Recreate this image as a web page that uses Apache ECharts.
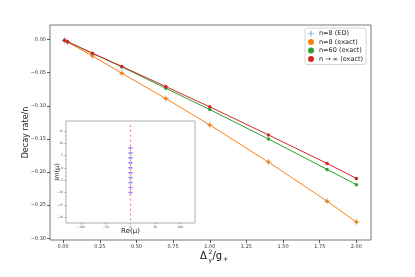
<!DOCTYPE html>
<html><head><meta charset="utf-8">
<script src="https://cdn.jsdelivr.net/npm/echarts@6/dist/echarts.min.js"></script>
<style>html,body{margin:0;padding:0;background:#fff}#c{width:415px;height:277px}</style>
</head><body><div id="c"></div>
<script>
// ---- data ----
const xVals      = [0.01, 0.03, 0.2, 0.4, 0.7, 1.0, 1.4, 1.8, 2.0];
const edRate     = [-0.0013, -0.0038, -0.0247, -0.0508, -0.089, -0.129, -0.185, -0.244, -0.2756];
const exact8     = [-0.0013, -0.0038, -0.0247, -0.0508, -0.089, -0.129, -0.185, -0.244, -0.2756];
const exact60    = [-0.0011, -0.0033, -0.0209, -0.0412, -0.0735, -0.1056, -0.150, -0.196, -0.219];
const exactInf   = [-0.0010, -0.0031, -0.0205, -0.0405, -0.0709, -0.1016, -0.144, -0.187, -0.2097];
const xTicks     = [0, 0.25, 0.5, 0.75, 1.0, 1.25, 1.5, 1.75, 2.0];
const yTicks     = [0, -0.05, -0.10, -0.15, -0.20, -0.25, -0.30];
const insetImExact = [17, 15, 13, 11, 9, 7, 5, 3, 1, -1, -3, -5, -7, -9, -11, -13, -15, -17, -19, -21];
const insetImED    = [8, 6, 4, 2, 0, -2, -4, -6, -8, -10];
const insetXTicks  = [-100, -50, 0, 50, 100];
const insetYTicks  = [-20, -15, -10, -5, 0, 5, 10, 15];
const legendNames  = ['n=8 (ED)', 'n=8 (exact)', 'n=60 (exact)', 'n \u2192 \u221e (exact)'];

const pair = (xs, ys) => xs.map((x, i) => [x, ys[i]]);
const fmt = v => (v < 0 ? '\u2212' : '') + Math.abs(v).toFixed(2);
const fmtInt = v => (v < 0 ? '\u2212' : '') + Math.abs(v);
const plus = 'path://M4.4,0h1.2v4.4h4.4v1.2h-4.4v4.4h-1.2v-4.4h-4.4v-1.2h4.4z';

const chart = echarts.init(document.getElementById('c'), null, {renderer: 'canvas'});
chart.setOption({
  animation: false,
  backgroundColor: '#fff',
  textStyle: {fontFamily: 'DejaVu Sans'},
  grid: [
    {left: 50, top: 25, width: 321, height: 215, show: true, borderColor: '#555', borderWidth: 0.8, backgroundColor: 'transparent'},
    {left: 66, top: 121, width: 129, height: 102, show: true, borderColor: '#999', borderWidth: 0.8, backgroundColor: '#fff', z: 3}
  ],
  xAxis: [
    {gridIndex: 0, type: 'value', min: -0.0895, max: 2.0995, splitLine: {show: false},
     axisLine: {show: false, onZero: false},
     axisTick: {show: true, inside: false, length: 3, lineStyle: {color: '#333', width: 0.8}, customValues: xTicks},
     axisLabel: {fontSize: 5, color: '#333', margin: 4, customValues: xTicks, formatter: fmt}},
    {gridIndex: 1, type: 'value', min: -130, max: 130, splitLine: {show: false}, z: 3,
     axisLine: {show: false, onZero: false},
     axisTick: {show: true, length: 1.5, lineStyle: {color: '#666', width: 0.5}, customValues: insetXTicks},
     axisLabel: {fontSize: 3, color: '#555', margin: 3, customValues: insetXTicks, formatter: fmtInt},
     name: 'Re(\u03bc)', nameLocation: 'middle', nameGap: 5, nameMoveOverlap: false,
     nameTextStyle: {fontSize: 7, color: '#222', verticalAlign: 'top'}}
  ],
  yAxis: [
    {gridIndex: 0, type: 'value', min: -0.3026, max: 0.022, splitLine: {show: false},
     axisLine: {show: false, onZero: false},
     axisTick: {show: true, inside: false, length: 3, lineStyle: {color: '#333', width: 0.8}, customValues: yTicks},
     axisLabel: {fontSize: 5, color: '#333', margin: 4, customValues: yTicks, formatter: fmt},
     name: 'Decay rate/n', nameLocation: 'middle', nameGap: 20, nameMoveOverlap: false,
     nameTextStyle: {fontSize: 8, color: '#222'}},
    {gridIndex: 1, type: 'value', min: -22.4, max: 19, splitLine: {show: false}, z: 3,
     axisLine: {show: false, onZero: false},
     axisTick: {show: true, length: 1.5, lineStyle: {color: '#666', width: 0.5}, customValues: insetYTicks},
     axisLabel: {fontSize: 3, color: '#555', margin: 3, customValues: insetYTicks, formatter: fmtInt},
     name: 'Im(\u03bc)', nameLocation: 'middle', nameGap: 5, nameMoveOverlap: false,
     nameTextStyle: {fontSize: 6.5, color: '#222'}}
  ],
  legend: {
    orient: 'vertical', left: 305, top: 28, padding: [2, 3, 2, 3], itemGap: 1.5,
    itemWidth: 6, itemHeight: 6, borderColor: '#ccc', borderWidth: 0.8, borderRadius: 2,
    backgroundColor: '#fff', textStyle: {fontSize: 6.5, color: '#222'},
    data: [
      {name: legendNames[0], icon: plus, itemStyle: {color: '#1f77b4'}},
      {name: legendNames[1], icon: 'circle', itemStyle: {color: '#ff7f0e'}},
      {name: legendNames[2], icon: 'circle', itemStyle: {color: '#2ca02c'}},
      {name: legendNames[3], icon: 'circle', itemStyle: {color: '#d62728'}}
    ]
  },
  series: [
    {name: legendNames[0], type: 'scatter', xAxisIndex: 0, yAxisIndex: 0, data: pair(xVals, edRate),
     symbol: plus, symbolSize: 7, itemStyle: {color: 'rgba(31,119,180,0.5)'}, z: 2},
    {name: legendNames[1], type: 'line', xAxisIndex: 0, yAxisIndex: 0, data: pair(xVals, exact8),
     symbol: 'circle', symbolSize: 3.5, showSymbol: true, lineStyle: {width: 1, color: '#ff7f0e'}, itemStyle: {color: '#ff7f0e'}, z: 3},
    {name: legendNames[2], type: 'line', xAxisIndex: 0, yAxisIndex: 0, data: pair(xVals, exact60),
     symbol: 'circle', symbolSize: 3.5, lineStyle: {width: 1, color: '#2ca02c'}, itemStyle: {color: '#2ca02c'}, z: 4},
    {name: legendNames[3], type: 'line', xAxisIndex: 0, yAxisIndex: 0, data: pair(xVals, exactInf),
     symbol: 'circle', symbolSize: 3.5, lineStyle: {width: 1, color: '#d62728'}, itemStyle: {color: '#d62728'}, z: 5},
    {type: 'scatter', xAxisIndex: 1, yAxisIndex: 1, data: insetImExact.map(v => [0, v]),
     symbol: 'rect', symbolSize: [1.2, 2], itemStyle: {color: 'rgba(255,40,40,0.75)'}, z: 6},
    {type: 'scatter', xAxisIndex: 1, yAxisIndex: 1, data: insetImED.map(v => [0, v]),
     symbol: 'rect', symbolSize: [4, 1.6], itemStyle: {color: 'rgba(50,50,240,0.75)'}, z: 7}
  ],
  graphic: [{
    type: 'group', left: 200, top: 249,
    children: [
      {type: 'text', x: 0, y: 2, style: {text: '\u0394', fontSize: 10, fill: '#111', fontFamily: 'DejaVu Sans'}},
      {type: 'text', x: 8.5, y: 0, style: {text: '2', fontSize: 6, fill: '#111', fontFamily: 'DejaVu Sans'}},
      {type: 'text', x: 8.5, y: 8, style: {text: 'y', fontSize: 6, fill: '#111', fontFamily: 'DejaVu Sans'}},
      {type: 'text', x: 12.5, y: 2, style: {text: '/g', fontSize: 10, fill: '#111', fontFamily: 'DejaVu Sans'}},
      {type: 'text', x: 23, y: 7, style: {text: '+', fontSize: 6.5, fill: '#111', fontFamily: 'DejaVu Sans'}}
    ]
  }]
});
</script></body></html>
